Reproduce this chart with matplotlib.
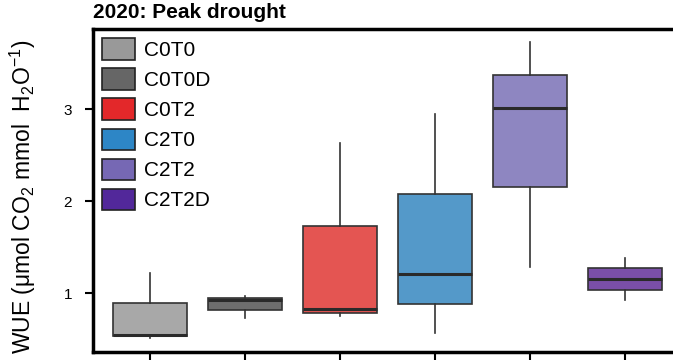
import matplotlib.pyplot as plt
from matplotlib.patches import Patch

# treatments and box stats
treatments = ["C0T0", "C0T0D", "C0T2", "C2T0", "C2T2", "C2T2D"]
whis_lo = [0.51, 0.73, 0.75, 0.57, 1.28, 0.92]
q1 = [0.53, 0.82, 0.78, 0.88, 2.15, 1.03]
medians = [0.55, 0.92, 0.83, 1.21, 3.01, 1.15]
q3 = [0.89, 0.95, 1.73, 2.08, 3.37, 1.27]
whis_hi = [1.22, 0.97, 2.63, 2.95, 3.73, 1.38]
yticks = [1, 2, 3]

legend_colors = ["#999999", "#666666", "#e3282a", "#2d86c6", "#7668b4", "#52289a"]
box_colors = ["#a8a8a8", "#6e6e6e", "#e45552", "#5499c9", "#8e86c1", "#7a4fa8"]

plt.rcParams["font.family"] = ["Liberation Sans", "DejaVu Sans"]
plt.rcParams["mathtext.fontset"] = "custom"
plt.rcParams["mathtext.rm"] = "Liberation Sans"
plt.rcParams["mathtext.it"] = "Liberation Sans:italic"
plt.rcParams["mathtext.bf"] = "Liberation Sans:bold"

fig = plt.figure(figsize=(6.73, 3.6), dpi=100)
ax = fig.add_axes([93 / 673, 8 / 360, 1 - 93 / 673, 323 / 360])

stats = []
for i, name in enumerate(treatments):
    stats.append({
        "label": name,
        "whislo": whis_lo[i],
        "q1": q1[i],
        "med": medians[i],
        "q3": q3[i],
        "whishi": whis_hi[i],
        "fliers": [],
    })

bp = ax.bxp(
    stats,
    positions=range(1, len(treatments) + 1),
    widths=0.77,
    patch_artist=True,
    showcaps=False,
    boxprops=dict(edgecolor="#333333", linewidth=1.2),
    whiskerprops=dict(color="#333333", linewidth=1.2),
    medianprops=dict(color="#2a2a2a", linewidth=2.2),
)
for patch, c in zip(bp["boxes"], box_colors):
    patch.set_facecolor(c)

ax.set_xlim(0.4, 6.505)
ax.set_ylim(0.36, 3.87)
ax.set_yticks(yticks)
ax.set_yticklabels([str(t) for t in yticks], fontsize=11)
ax.set_xticks(range(1, len(treatments) + 1))
ax.set_xticklabels([])
ax.tick_params(axis="both", width=1.5, length=6, color="black", pad=9)

for s in ["left", "bottom", "top"]:
    ax.spines[s].set_linewidth(2.5)
ax.spines["right"].set_visible(False)

ax.set_ylabel("WUE (μmol CO$_2$ mmol  H$_2$O$^{-1}$)", fontsize=16.5)
ax.yaxis.set_label_coords(-0.095, 0.48)

handles = [Patch(facecolor=c, edgecolor="#222222", linewidth=1.2) for c in legend_colors]
ax.legend(handles, treatments, loc="upper left", frameon=False, fontsize=15,
          handlelength=1.55, handleheight=1.2, handletextpad=0.45,
          labelspacing=0.4, borderpad=0.3, borderaxespad=0.15)

fig.text(93 / 673, 1 - 13 / 360, "2020: Peak drought", fontsize=15,
         fontweight="bold", va="center", ha="left")

fig.savefig("out.png", dpi=100)
